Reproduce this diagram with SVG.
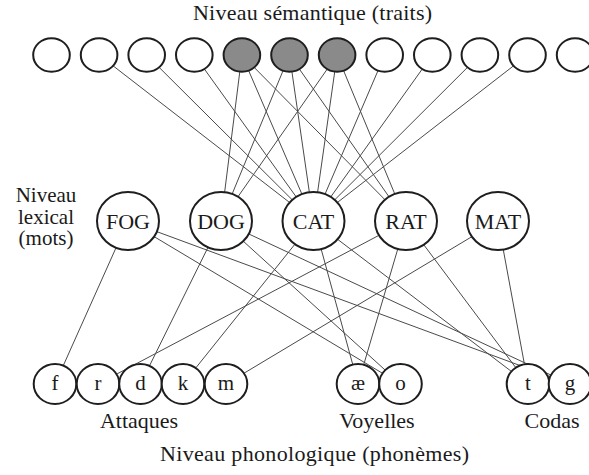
<svg xmlns="http://www.w3.org/2000/svg" width="589" height="475" viewBox="0 0 589 475">
  <style>
    text { font-family: "Liberation Serif", "Times New Roman", serif; fill: #1a1a1a; }
    .title { font-size: 22px; text-anchor: middle; }
    .side { font-size: 22px; text-anchor: middle; }
    .cap { font-size: 21px; text-anchor: middle; }
    .word { font-size: 22px; text-anchor: middle; }
    .ph { font-size: 21px; text-anchor: middle; }
    .feat { fill: #ffffff; stroke: #1e1e1e; stroke-width: 2; }
    .feat.on { fill: #8a8a8a; }
    .lex { fill: #ffffff; stroke: #1e1e1e; stroke-width: 2; }
    .pho { fill: #ffffff; stroke: #1e1e1e; stroke-width: 2; }
    #links line { stroke: #4a4a4a; stroke-width: 1; }
  </style>

  <!-- level captions -->
  <text class="title" x="312.5" y="20" textLength="239">Niveau sémantique (traits)</text>
  <text class="title" x="314.5" y="461" textLength="309">Niveau phonologique (phonèmes)</text>
  <g id="lexical-caption">
    <text class="cap" x="46" y="202">Niveau</text>
    <text class="cap" x="46" y="223.5">lexical</text>
    <text class="cap" x="46" y="245">(mots)</text>
  </g>
  <text class="side" x="139" y="428">Attaques</text>
  <text class="side" x="377" y="428">Voyelles</text>
  <text class="side" x="552" y="428">Codas</text>

  <!-- connectors (drawn first; node fills hide the parts inside the nodes) -->
  <g id="links">
    <!-- semantic features to CAT -->
    <line x1="99.1" y1="55" x2="313.5" y2="221"/>
    <line x1="146.7" y1="55" x2="313.5" y2="221"/>
    <line x1="194.3" y1="55" x2="313.5" y2="221"/>
    <line x1="241.9" y1="55" x2="313.5" y2="221"/>
    <line x1="289.5" y1="55" x2="313.5" y2="221"/>
    <line x1="337.1" y1="55" x2="313.5" y2="221"/>
    <line x1="384.7" y1="55" x2="313.5" y2="221"/>
    <line x1="432.3" y1="55" x2="313.5" y2="221"/>
    <line x1="479.9" y1="55" x2="313.5" y2="221"/>
    <line x1="527.5" y1="55" x2="313.5" y2="221"/>
    <!-- shared features to DOG -->
    <line x1="241.9" y1="55" x2="221" y2="221"/>
    <line x1="289.5" y1="55" x2="221" y2="221"/>
    <line x1="337.1" y1="55" x2="221" y2="221"/>
    <!-- shared features to RAT -->
    <line x1="241.9" y1="55" x2="406" y2="221"/>
    <line x1="289.5" y1="55" x2="406" y2="221"/>
    <line x1="337.1" y1="55" x2="406" y2="221"/>
    <!-- FOG -->
    <line x1="128" y1="221" x2="63.5" y2="365.1"/>
    <line x1="128" y1="221" x2="382.7" y2="373.4"/>
    <line x1="128" y1="221" x2="550.6" y2="376.8"/>
    <!-- DOG -->
    <line x1="221" y1="221" x2="149.7" y2="365.4"/>
    <line x1="221" y1="221" x2="385.2" y2="370.1"/>
    <line x1="221" y1="221" x2="551.2" y2="375.2"/>
    <!-- CAT -->
    <line x1="313.5" y1="221" x2="195.9" y2="367.8"/>
    <line x1="313.5" y1="221" x2="352.6" y2="364"/>
    <line x1="313.5" y1="221" x2="511.5" y2="371.5"/>
    <!-- RAT -->
    <line x1="406" y1="221" x2="116.3" y2="374.3"/>
    <line x1="406" y1="221" x2="363.9" y2="364.1"/>
    <line x1="406" y1="221" x2="515.6" y2="367.4"/>
    <!-- MAT -->
    <line x1="498" y1="221" x2="243.7" y2="373.4"/>
    <line x1="498" y1="221" x2="524.3" y2="363.6"/>
  </g>

  <!-- semantic feature units -->
  <g id="features">
    <g id="f1"><ellipse class="feat" cx="51.5" cy="55" rx="18.3" ry="16.8"/></g>
    <g id="f2"><ellipse class="feat" cx="99.1" cy="55" rx="18.3" ry="16.8"/></g>
    <g id="f3"><ellipse class="feat" cx="146.7" cy="55" rx="18.3" ry="16.8"/></g>
    <g id="f4"><ellipse class="feat" cx="194.3" cy="55" rx="18.3" ry="16.8"/></g>
    <g id="f5"><ellipse class="feat on" cx="241.9" cy="55" rx="18.3" ry="16.8"/></g>
    <g id="f6"><ellipse class="feat on" cx="289.5" cy="55" rx="18.3" ry="16.8"/></g>
    <g id="f7"><ellipse class="feat on" cx="337.1" cy="55" rx="18.3" ry="16.8"/></g>
    <g id="f8"><ellipse class="feat" cx="384.7" cy="55" rx="18.3" ry="16.8"/></g>
    <g id="f9"><ellipse class="feat" cx="432.3" cy="55" rx="18.3" ry="16.8"/></g>
    <g id="f10"><ellipse class="feat" cx="479.9" cy="55" rx="18.3" ry="16.8"/></g>
    <g id="f11"><ellipse class="feat" cx="527.5" cy="55" rx="18.3" ry="16.8"/></g>
    <g id="f12"><ellipse class="feat" cx="575.1" cy="55" rx="18.3" ry="16.8"/></g>
  </g>

  <!-- word units -->
  <g id="fog"><ellipse class="lex" cx="128" cy="221" rx="31" ry="29"/><text class="word" x="128" y="228.5">FOG</text></g>
  <g id="dog"><ellipse class="lex" cx="221" cy="221" rx="31" ry="29"/><text class="word" x="221" y="228.5">DOG</text></g>
  <g id="cat"><ellipse class="lex" cx="313.5" cy="221" rx="31" ry="29"/><text class="word" x="313.5" y="228.5">CAT</text></g>
  <g id="rat"><ellipse class="lex" cx="406" cy="221" rx="31" ry="29"/><text class="word" x="406" y="228.5">RAT</text></g>
  <g id="mat"><ellipse class="lex" cx="498" cy="221" rx="31" ry="29"/><text class="word" x="498" y="228.5">MAT</text></g>

  <!-- phoneme units: onsets -->
  <g id="ph-f"><ellipse class="pho" cx="55" cy="384" rx="21.3" ry="20"/><text class="ph" x="55" y="390">f</text></g>
  <g id="ph-r"><ellipse class="pho" cx="98" cy="384" rx="21.3" ry="20"/><text class="ph" x="98" y="390">r</text></g>
  <g id="ph-d"><ellipse class="pho" cx="140.5" cy="384" rx="21.3" ry="20"/><text class="ph" x="140.5" y="390">d</text></g>
  <g id="ph-k"><ellipse class="pho" cx="183" cy="384" rx="21.3" ry="20"/><text class="ph" x="183" y="390">k</text></g>
  <g id="ph-m"><ellipse class="pho" cx="226" cy="384" rx="21.3" ry="20"/><text class="ph" x="226" y="390">m</text></g>
  <!-- vowels -->
  <g id="ph-ae"><ellipse class="pho" cx="358" cy="384" rx="21.3" ry="20"/><text class="ph" x="358" y="390">æ</text></g>
  <g id="ph-o"><ellipse class="pho" cx="400.5" cy="384" rx="21.3" ry="20"/><text class="ph" x="400.5" y="390">o</text></g>
  <!-- codas -->
  <g id="ph-t"><ellipse class="pho" cx="528" cy="384" rx="21.3" ry="20"/><text class="ph" x="528" y="390">t</text></g>
  <g id="ph-g"><ellipse class="pho" cx="570" cy="384" rx="21.3" ry="20"/><text class="ph" x="570" y="390">g</text></g>
</svg>
